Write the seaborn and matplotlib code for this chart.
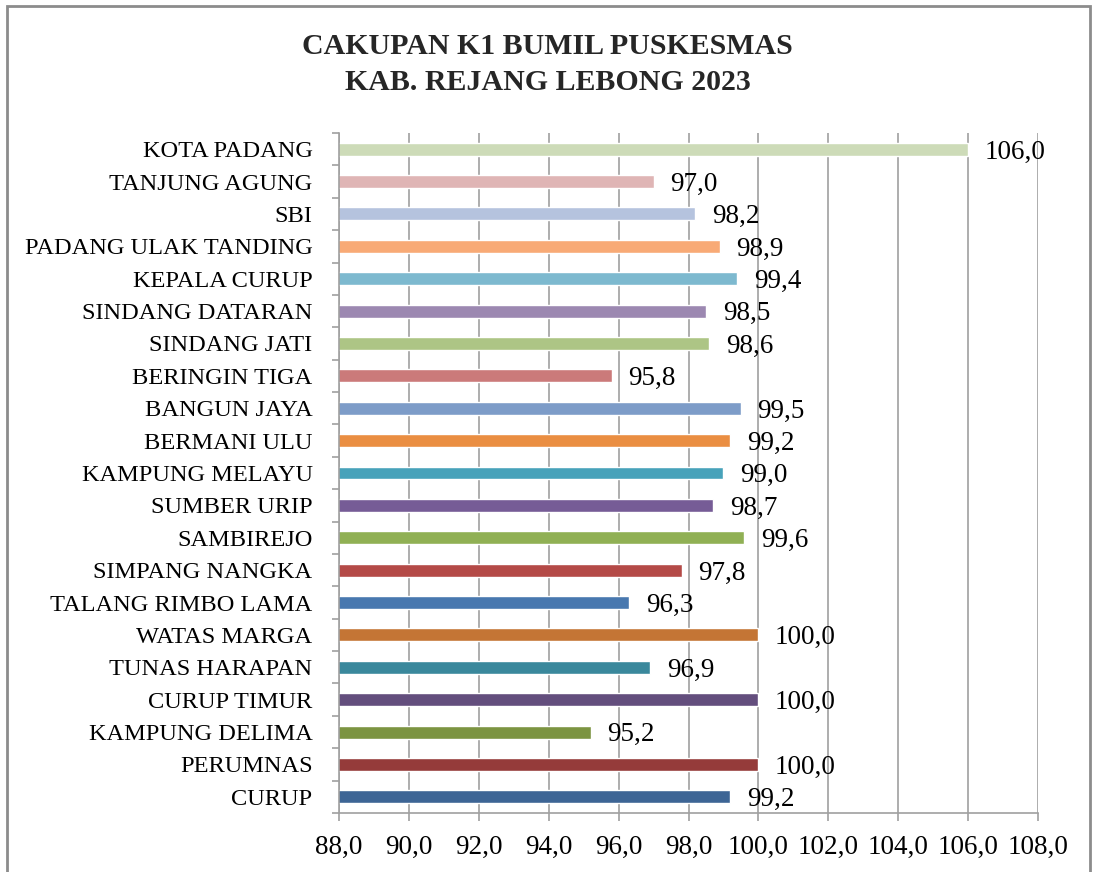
import numpy as np
import pandas as pd

import matplotlib.pyplot as plt
from matplotlib.patches import Rectangle
from matplotlib.ticker import FuncFormatter, FixedLocator
import seaborn as sns

sns.set_theme(style='white')
plt.rcParams['font.family'] = ['Liberation Serif', 'DejaVu Serif']

# data, top row first
puskesmas = ['KOTA PADANG', 'TANJUNG AGUNG', 'SBI', 'PADANG ULAK TANDING',
             'KEPALA CURUP', 'SINDANG DATARAN', 'SINDANG JATI', 'BERINGIN TIGA',
             'BANGUN JAYA', 'BERMANI ULU', 'KAMPUNG MELAYU', 'SUMBER URIP',
             'SAMBIREJO', 'SIMPANG NANGKA', 'TALANG RIMBO LAMA', 'WATAS MARGA',
             'TUNAS HARAPAN', 'CURUP TIMUR', 'KAMPUNG DELIMA', 'PERUMNAS', 'CURUP']
cakupan = [106.0, 97.0, 98.2, 98.9, 99.4, 98.5, 98.6, 95.8, 99.5, 99.2, 99.0,
           98.7, 99.6, 97.8, 96.3, 100.0, 96.9, 100.0, 95.2, 100.0, 99.2]
warna = ['#CDDBB8', '#DFB5B5', '#B5C3DE', '#F8AA76', '#7DB9CF', '#9C88B1',
         '#ADC585', '#CB7A7A', '#7D9CC8', '#EA8E42', '#47A2BA', '#765C96',
         '#90B054', '#B44A47', '#4878AF', '#C47535', '#3A889C', '#634E7D',
         '#7C9441', '#953B3A', '#3D6595']
x_ticks = [88, 90, 92, 94, 96, 98, 100, 102, 104, 106, 108]

df = pd.DataFrame({'puskesmas': puskesmas, 'cakupan': cakupan})
grid_col = '#A0A0A0'
koma = lambda v: f'{v:.1f}'.replace('.', ',')

fig = plt.figure(figsize=(10.95, 8.72), dpi=100)
ax = fig.add_axes([339/1095, 1 - 813/872, (1038-339)/1095, (813-133)/872])

sns.barplot(data=df, x='cakupan', y='puskesmas', hue='puskesmas',
            palette=dict(zip(puskesmas, warna)), order=puskesmas,
            orient='h', width=0.4, legend=False, saturation=1, ax=ax)

ax.set_xlim(88, 108)
ax.set_ylim(len(puskesmas) - 0.5, -0.5)
ax.xaxis.set_major_locator(FixedLocator(x_ticks))
ax.xaxis.set_major_formatter(FuncFormatter(lambda v, p: koma(v)))
ax.grid(axis='x', color=grid_col, linewidth=1.2)
ax.set_axisbelow(True)
ax.set_xlabel('')
ax.set_ylabel('')

for s in ['top', 'right']:
    ax.spines[s].set_visible(False)
for s in ['left', 'bottom']:
    ax.spines[s].set_color(grid_col)
    ax.spines[s].set_linewidth(1.2)

ax.yaxis.set_minor_locator(FixedLocator(np.arange(-0.5, len(puskesmas), 1)))
ax.tick_params(axis='y', which='major', length=0, pad=19, labelsize=17.6, labelcolor='black')
ax.tick_params(axis='y', which='minor', left=True, length=5, width=1.2, color=grid_col)
ax.tick_params(axis='x', which='major', bottom=True, length=6, width=1.2, color=grid_col,
               pad=10, labelsize=19.5, labelcolor='black')

# value labels, a little below the bar centre like the original
for cont in ax.containers:
    for b in cont:
        ax.annotate(koma(b.get_width()), (b.get_width(), b.get_y() + b.get_height() / 2),
                    xytext=(12, -2), textcoords='offset points',
                    ha='left', va='center', fontsize=19.5, color='black')

fig.suptitle('CAKUPAN K1 BUMIL PUSKESMAS\nKAB. REJANG LEBONG 2023',
             y=0.962, fontsize=21.5, fontweight='bold', linespacing=1.4)

fig.add_artist(Rectangle((7/1095, -0.1), (1090-7)/1095, 1.1 - 6/872,
                         transform=fig.transFigure, fill=False,
                         edgecolor='#8C8C8C', linewidth=2))

fig.savefig('out.png', dpi=100)
